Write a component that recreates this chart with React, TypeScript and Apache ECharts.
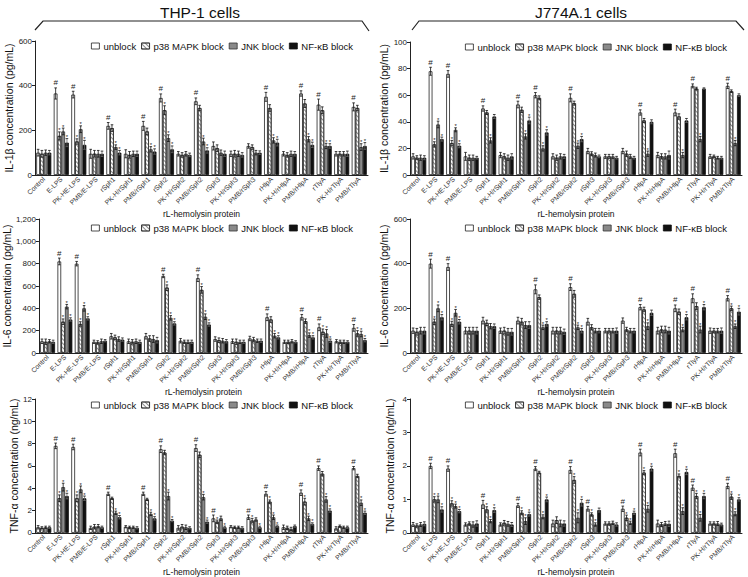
import React, { useEffect, useRef } from "react";
import * as echarts from "echarts";

const categories = ["Control", "E-LPS", "PK-HE-LPS", "PMB/E-LPS", "rSph1", "PK-H/rSph1", "PMB/rSph1", "rSph2", "PK-H/rSph2", "PMB/rSph2", "rSph3", "PK-H/rSph3", "PMB/rSph3", "rHlpA", "PK-H/rHlpA", "PMB/rHlpA", "rTlyA", "PK-H/rTlyA", "PMB/rTlyA"];
const seriesNames = ["unblock", "p38 MAPK block", "JNK block", "NF-κB block"];
const xAxisName = "rL-hemolysin protein";
const cellTitles = ["THP-1 cells", "J774A.1 cells"];

// IL-1β, THP-1 (pg/mL)
const thpIL1bUnblock = [100, 365, 360, 95, 220, 95, 220, 345, 95, 330, 130, 95, 130, 350, 95, 365, 315, 95, 305];
const thpIL1bP38 = [95, 175, 150, 95, 210, 90, 195, 290, 90, 300, 120, 95, 125, 300, 90, 320, 290, 95, 300];
const thpIL1bJNK = [100, 195, 205, 95, 125, 95, 115, 165, 95, 150, 100, 95, 100, 155, 95, 160, 130, 95, 125];
const thpIL1bNF = [100, 145, 135, 95, 100, 95, 105, 115, 90, 110, 95, 90, 100, 145, 95, 135, 130, 95, 130];
const thpIL1bErrU = [15, 25, 15, 20, 15, 18, 20, 18, 10, 15, 18, 12, 10, 20, 10, 12, 25, 10, 18];
const thpIL1bErrP = [15, 18, 12, 15, 15, 15, 15, 20, 10, 12, 15, 15, 10, 15, 10, 18, 15, 10, 12];
const thpIL1bErrJ = [12, 15, 15, 15, 10, 12, 12, 15, 10, 15, 12, 12, 10, 12, 12, 12, 12, 10, 15];
const thpIL1bErrN = [10, 18, 20, 12, 10, 12, 12, 15, 8, 12, 12, 10, 8, 15, 10, 12, 10, 12, 15];
const thpIL1bHash = [1, 2, 4, 6, 7, 9, 13, 15, 16, 18];

// IL-1β, J774A.1 (pg/mL)
const jIL1bUnblock = [14, 78, 76, 14, 50, 15, 53, 60, 14, 58, 18, 14, 18, 47, 15, 47, 67, 14, 67];
const jIL1bP38 = [13, 23, 24, 13, 47, 14, 49, 58, 13, 54, 16, 14, 16, 41, 14, 44, 65, 14, 63];
const jIL1bJNK = [13, 38, 34, 13, 26, 13, 29, 20, 14, 22, 15, 14, 14, 16, 14, 15, 27, 13, 24];
const jIL1bNF = [13, 27, 22, 13, 44, 14, 41, 32, 14, 27, 14, 13, 13, 40, 15, 41, 65, 13, 60];
const jIL1bErrU = [2, 3, 2.5, 3, 2, 2, 2.5, 2, 2, 3, 2, 1.5, 2, 2, 2, 2.5, 1.5, 1.5, 2];
const jIL1bErrP = [1.5, 2, 2, 2, 1.5, 2, 2, 1.5, 2, 1.5, 1.5, 1.5, 2, 1.5, 2, 2, 1, 1, 1];
const jIL1bErrJ = [2, 2.5, 1.5, 2, 2, 2, 2, 2, 2, 2, 1.5, 1.5, 1.5, 2, 2, 2, 2, 1, 2];
const jIL1bErrN = [1.5, 1.5, 1.5, 1, 1.5, 2, 2.5, 2, 1.5, 2, 1, 1, 1, 1.5, 3, 1.5, 0.5, 1, 1];
const jIL1bHash = [1, 2, 4, 6, 7, 9, 13, 15, 16, 18];

// IL-6, THP-1 (pg/mL)
const thpIL6Unblock = [105, 820, 800, 100, 150, 105, 150, 690, 110, 670, 125, 105, 130, 320, 100, 320, 230, 105, 225];
const thpIL6P38 = [100, 280, 260, 95, 140, 100, 130, 585, 100, 565, 115, 100, 120, 300, 100, 285, 190, 100, 175];
const thpIL6JNK = [105, 415, 400, 105, 125, 105, 125, 315, 100, 325, 110, 100, 110, 155, 105, 160, 175, 100, 170];
const thpIL6NF = [100, 300, 310, 110, 120, 100, 115, 265, 100, 255, 105, 100, 110, 140, 100, 140, 110, 100, 115];
const thpIL6ErrU = [20, 30, 20, 15, 25, 20, 25, 15, 20, 30, 20, 20, 20, 30, 15, 25, 30, 15, 30];
const thpIL6ErrP = [25, 25, 20, 15, 20, 20, 25, 25, 15, 30, 20, 25, 20, 25, 15, 20, 25, 15, 25];
const thpIL6ErrJ = [15, 20, 25, 20, 20, 20, 30, 20, 15, 25, 20, 15, 15, 20, 15, 20, 35, 15, 25];
const thpIL6ErrN = [15, 15, 15, 10, 15, 15, 25, 15, 15, 15, 15, 15, 15, 15, 10, 15, 15, 10, 15];
const thpIL6Hash = [1, 2, 7, 9, 13, 15, 16, 18];

// IL-6, J774A.1 (pg/mL)
const jIL6Unblock = [100, 400, 385, 100, 145, 100, 145, 285, 100, 295, 140, 100, 145, 205, 100, 200, 245, 100, 245];
const jIL6P38 = [95, 140, 130, 100, 135, 100, 140, 250, 100, 265, 115, 100, 105, 195, 105, 185, 210, 100, 200];
const jIL6JNK = [100, 200, 180, 100, 120, 95, 125, 115, 100, 115, 100, 100, 100, 120, 105, 105, 105, 100, 120];
const jIL6NF = [100, 160, 140, 100, 120, 95, 125, 130, 95, 100, 100, 100, 100, 180, 100, 160, 205, 100, 185];
const jIL6ErrU = [12, 20, 15, 15, 15, 12, 15, 20, 15, 15, 15, 10, 12, 12, 15, 15, 20, 12, 12];
const jIL6ErrP = [15, 12, 12, 15, 12, 15, 15, 10, 15, 15, 12, 10, 10, 10, 15, 12, 15, 10, 10];
const jIL6ErrJ = [15, 15, 15, 15, 12, 15, 15, 10, 15, 10, 10, 10, 10, 15, 15, 10, 15, 10, 10];
const jIL6ErrN = [15, 12, 10, 15, 10, 15, 15, 10, 12, 10, 10, 12, 10, 12, 15, 12, 12, 12, 15];
const jIL6Hash = [1, 2, 7, 9, 13, 15, 16, 18];

// TNF-α, THP-1 (ng/mL)
const thpTNFUnblock = [0.5, 7.8, 7.7, 0.45, 3.5, 0.55, 3.5, 7.5, 0.45, 7.6, 1.3, 0.55, 1.4, 3.5, 0.5, 3.6, 5.8, 0.4, 5.8];
const thpTNFP38 = [0.45, 3.1, 3.1, 0.55, 3.1, 0.5, 3.0, 7.2, 0.55, 7.0, 1.0, 0.5, 1.1, 2.8, 0.45, 2.8, 5.3, 0.6, 5.1];
const thpTNFJNK = [0.5, 4.1, 3.9, 0.6, 1.8, 0.5, 1.7, 3.3, 0.5, 3.2, 1.3, 0.5, 1.2, 1.4, 0.35, 1.3, 3.0, 0.5, 2.7];
const thpTNFNF = [0.5, 3.3, 3.1, 0.5, 1.4, 0.45, 1.3, 1.1, 0.45, 1.0, 0.5, 0.45, 0.5, 0.6, 0.6, 0.8, 2.0, 0.5, 1.8];
const thpTNFErrU = [0.15, 0.25, 0.25, 0.15, 0.15, 0.1, 0.15, 0.3, 0.2, 0.3, 0.3, 0.1, 0.2, 0.2, 0.2, 0.25, 0.2, 0.15, 0.15];
const thpTNFErrP = [0.1, 0.3, 0.3, 0.2, 0.1, 0.1, 0.1, 0.2, 0.2, 0.25, 0.15, 0.1, 0.2, 0.15, 0.15, 0.3, 0.2, 0.1, 0.15];
const thpTNFErrJ = [0.1, 0.35, 0.3, 0.15, 0.15, 0.1, 0.15, 0.35, 0.2, 0.25, 0.2, 0.1, 0.15, 0.2, 0.15, 0.2, 0.25, 0.1, 0.25];
const thpTNFErrN = [0.1, 0.25, 0.2, 0.1, 0.15, 0.1, 0.15, 0.1, 0.1, 0.15, 0.1, 0.1, 0.1, 0.1, 0.1, 0.1, 0.15, 0.1, 0.15];
const thpTNFHash = [1, 2, 4, 6, 7, 9, 10, 12, 13, 15, 16, 18];

// TNF-α, J774A.1 (ng/mL)
const jTNFUnblock = [0.25, 2.0, 1.92, 0.25, 0.85, 0.25, 0.82, 1.92, 0.28, 1.88, 0.72, 0.28, 0.72, 2.4, 0.28, 2.38, 1.35, 0.28, 1.4];
const jTNFP38 = [0.22, 1.0, 0.88, 0.28, 0.7, 0.3, 0.6, 1.8, 0.38, 1.58, 0.55, 0.28, 0.45, 1.8, 0.25, 1.7, 1.1, 0.28, 1.08];
const jTNFJNK = [0.25, 1.0, 0.8, 0.25, 0.35, 0.27, 0.35, 0.48, 0.28, 0.45, 0.25, 0.3, 0.3, 0.72, 0.28, 0.65, 0.45, 0.28, 0.57];
const jTNFNF = [0.27, 0.7, 0.65, 0.28, 0.68, 0.25, 0.56, 1.0, 0.28, 0.9, 0.68, 0.25, 0.6, 1.92, 0.27, 1.82, 1.1, 0.25, 1.0];
const jTNFErrU = [0.06, 0.08, 0.08, 0.05, 0.12, 0.05, 0.06, 0.06, 0.1, 0.1, 0.07, 0.05, 0.08, 0.1, 0.1, 0.12, 0.08, 0.05, 0.08];
const jTNFErrP = [0.05, 0.08, 0.08, 0.05, 0.08, 0.07, 0.06, 0.04, 0.1, 0.1, 0.05, 0.05, 0.08, 0.06, 0.06, 0.06, 0.08, 0.05, 0.08];
const jTNFErrJ = [0.06, 0.1, 0.06, 0.08, 0.05, 0.07, 0.1, 0.06, 0.1, 0.15, 0.05, 0.05, 0.05, 0.1, 0.06, 0.1, 0.1, 0.06, 0.06];
const jTNFErrN = [0.06, 0.08, 0.05, 0.08, 0.07, 0.06, 0.06, 0.07, 0.08, 0.1, 0.06, 0.05, 0.05, 0.07, 0.08, 0.08, 0.08, 0.04, 0.05];
const jTNFHash = [1, 2, 4, 6, 7, 9, 10, 12, 13, 15, 16, 18];

const FONT = '"Liberation Sans", Arial, Helvetica, sans-serif';
const CAT_GAP = 0.14;

const hatch = {
  symbol: "rect",
  symbolSize: 1,
  dashArrayX: [1, 0],
  dashArrayY: [1, 1.3],
  rotation: Math.PI / 4,
  color: "rgba(90,90,90,0.7)",
};

const barStyles = [
  { color: "#ffffff", borderColor: "#222", borderWidth: 0.8 },
  { color: "#ffffff", borderColor: "#333", borderWidth: 0.8, decal: hatch },
  { color: "#8a8a8a", borderColor: "#333", borderWidth: 0.8 },
  { color: "#111111", borderColor: "#111", borderWidth: 0.8 },
];

const panels = [
  { vals: [thpIL1bUnblock, thpIL1bP38, thpIL1bJNK, thpIL1bNF], errs: [thpIL1bErrU, thpIL1bErrP, thpIL1bErrJ, thpIL1bErrN], hash: thpIL1bHash, max: 600, interval: 200, yName: "IL-1β concentration (pg/mL)", grid: { left: 35, top: 41, width: 333, height: 134 }, legend: { left: 91, top: 41 } },
  { vals: [jIL1bUnblock, jIL1bP38, jIL1bJNK, jIL1bNF], errs: [jIL1bErrU, jIL1bErrP, jIL1bErrJ, jIL1bErrN], hash: jIL1bHash, max: 100, interval: 20, yName: "IL-1β concentration (pg/mL)", grid: { left: 410, top: 42, width: 332, height: 133 }, legend: { left: 465, top: 42 } },
  { vals: [thpIL6Unblock, thpIL6P38, thpIL6JNK, thpIL6NF], errs: [thpIL6ErrU, thpIL6ErrP, thpIL6ErrJ, thpIL6ErrN], hash: thpIL6Hash, max: 1200, interval: 200, yName: "IL-6 concentration (pg/mL)", grid: { left: 35, top: 219, width: 333, height: 134 }, legend: { left: 91, top: 223 } },
  { vals: [jIL6Unblock, jIL6P38, jIL6JNK, jIL6NF], errs: [jIL6ErrU, jIL6ErrP, jIL6ErrJ, jIL6ErrN], hash: jIL6Hash, max: 600, interval: 200, yName: "IL-6 concentration (pg/mL)", grid: { left: 410, top: 219, width: 332, height: 134 }, legend: { left: 465, top: 223 } },
  { vals: [thpTNFUnblock, thpTNFP38, thpTNFJNK, thpTNFNF], errs: [thpTNFErrU, thpTNFErrP, thpTNFErrJ, thpTNFErrN], hash: thpTNFHash, max: 12, interval: 2, yName: "TNF-α concentration (ng/mL)", grid: { left: 35, top: 399, width: 333, height: 135 }, legend: { left: 91, top: 400 } },
  { vals: [jTNFUnblock, jTNFP38, jTNFJNK, jTNFNF], errs: [jTNFErrU, jTNFErrP, jTNFErrJ, jTNFErrN], hash: jTNFHash, max: 4, interval: 1, yName: "TNF-α concentration (ng/mL)", grid: { left: 410, top: 399, width: 332, height: 135 }, legend: { left: 465, top: 400 } },
];

function buildOption() {
  const grid: any[] = [];
  const xAxis: any[] = [];
  const yAxis: any[] = [];
  const series: any[] = [];
  const legend: any[] = [];

  panels.forEach((p, pi) => {
    grid.push({ ...p.grid, containLabel: false });
    xAxis.push({
      type: "category",
      gridIndex: pi,
      data: categories,
      name: xAxisName,
      nameLocation: "middle",
      nameGap: pi >= 4 ? 29.5 : 29,
      nameTextStyle: { fontFamily: FONT, fontSize: 8.5, color: "#111" },
      axisLine: { show: true, lineStyle: { color: "#222", width: 1 } },
      axisTick: { show: false },
      axisLabel: { interval: 0, rotate: 45, fontSize: 6.8, fontFamily: FONT, color: "#333", margin: 3 },
      splitLine: { show: false },
    });
    yAxis.push({
      type: "value",
      gridIndex: pi,
      min: 0,
      max: p.max,
      interval: p.interval,
      name: p.yName,
      nameLocation: "middle",
      nameGap: pi % 2 === 0 ? 14 : 15,
      nameTextStyle: { fontFamily: FONT, fontSize: 10.5, color: "#111" },
      axisLine: { show: true, lineStyle: { color: "#222", width: 1 } },
      axisTick: { show: true, length: 3, lineStyle: { color: "#222" } },
      axisLabel: { fontSize: 8, fontFamily: FONT, color: "#222", margin: 3 },
      splitLine: { show: false },
    });
    p.vals.forEach((arr, si) => {
      series.push({
        type: "bar",
        name: seriesNames[si],
        xAxisIndex: pi,
        yAxisIndex: pi,
        data: arr,
        barGap: "0%",
        barCategoryGap: CAT_GAP * 100 + "%",
        itemStyle: barStyles[si],
        emphasis: { disabled: true },
        z: 2,
      });
    });
    const errData: number[][] = [];
    p.vals.forEach((arr, si) => {
      arr.forEach((v, ci) => {
        let mk = 0;
        if (p.hash.includes(ci)) {
          if (si === 0) mk = 1;
          else if (v < 0.85 * p.vals[0][ci]) mk = 2;
        }
        errData.push([ci, si, v, p.errs[si][ci], mk]);
      });
    });
    series.push({
      type: "custom",
      name: "err" + pi,
      xAxisIndex: pi,
      yAxisIndex: pi,
      data: errData,
      encode: { x: 0, y: 2 },
      clip: false,
      z: 5,
      silent: true,
      renderItem: (params: any, api: any) => {
        const ci = api.value(0);
        const si = api.value(1);
        const v = api.value(2);
        const e = api.value(3);
        const mk = api.value(4);
        const band = api.size([1, 0])[0];
        const total = band * (1 - CAT_GAP);
        const bw = total / 4;
        const c = api.coord([ci, 0]);
        const x = c[0] - total / 2 + bw * (si + 0.5);
        const yTop = api.coord([ci, v + e])[1];
        const yBot = api.coord([ci, Math.max(0, v - e)])[1];
        const cap = bw * 0.35;
        const stroke = "#111";
        const children: any[] = [
          { type: "line", shape: { x1: x, y1: yTop, x2: x, y2: yBot }, style: { stroke: si === 3 ? "#666" : stroke, lineWidth: 0.8 } },
          { type: "line", shape: { x1: x - cap, y1: yTop, x2: x + cap, y2: yTop }, style: { stroke, lineWidth: 0.8 } },
          { type: "line", shape: { x1: x - cap, y1: yBot, x2: x + cap, y2: yBot }, style: { stroke: si === 3 ? "#666" : stroke, lineWidth: 0.8 } },
        ];
        if (mk === 1) {
          children.push({ type: "text", x, y: yTop - 1, style: { text: "#", align: "center", verticalAlign: "bottom", fontSize: 8, fontFamily: FONT, fill: "#222" } });
        } else if (mk === 2) {
          children.push({ type: "text", x, y: yTop + 1.5, style: { text: "*", align: "center", verticalAlign: "bottom", fontSize: 6, fontFamily: FONT, fill: "#222" } });
        }
        return { type: "group", children };
      },
    });
    legend.push({
      left: p.legend.left,
      top: p.legend.top,
      padding: 0,
      itemWidth: 8,
      itemHeight: 6,
      itemGap: 5,
      icon: "rect",
      selectedMode: false,
      textStyle: { fontFamily: FONT, fontSize: 9.5, color: "#111", padding: [0, 0, 0, -1] },
      data: seriesNames.map((n, si) => ({ name: n, itemStyle: barStyles[si] })),
    });
  });

  const graphic: any[] = [
    { type: "polyline", shape: { points: [[35, 30], [43, 21], [362, 21], [369, 31]] }, style: { stroke: "#222", lineWidth: 1.2, fill: null } },
    { type: "polyline", shape: { points: [[412, 30], [419, 21], [736, 21], [744, 30]] }, style: { stroke: "#222", lineWidth: 1.2, fill: null } },
    { type: "text", x: 200, y: 12, style: { text: cellTitles[0], align: "center", verticalAlign: "middle", fontSize: 15.5, fontFamily: FONT, fill: "#111" } },
    { type: "text", x: 581, y: 12, style: { text: cellTitles[1], align: "center", verticalAlign: "middle", fontSize: 15.5, fontFamily: FONT, fill: "#111" } },
  ];

  return {
    animation: false,
    backgroundColor: "#ffffff",
    grid,
    xAxis,
    yAxis,
    series,
    legend,
    graphic,
  };
}

export default function App() {
  const ref = useRef<HTMLDivElement>(null);
  useEffect(() => {
    if (!ref.current) return;
    const chart = echarts.init(ref.current, undefined, { renderer: "svg" });
    chart.setOption(buildOption() as any);
    return () => chart.dispose();
  }, []);
  return <div ref={ref} style={{ position: "absolute", left: 0, top: 0, width: 748, height: 577, background: "#fff" }} />;
}
